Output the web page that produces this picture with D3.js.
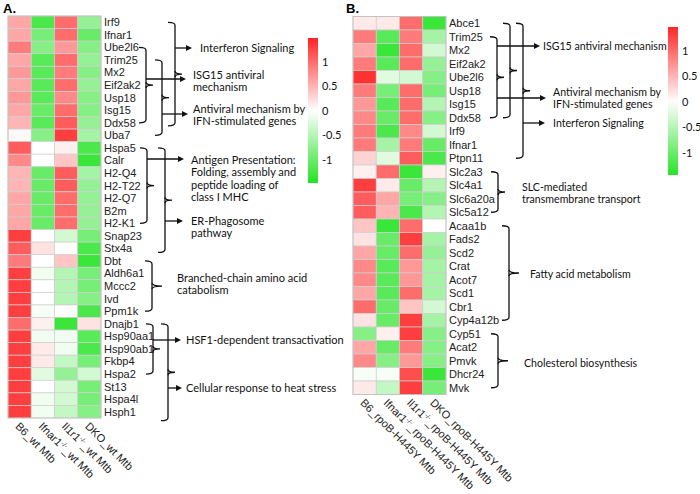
<!DOCTYPE html>
<html><head><meta charset="utf-8">
<script src="https://cdn.jsdelivr.net/npm/d3@7"></script>
<style>body{margin:0;background:#fff}svg{display:block}</style>
</head><body>
<script>
// ---------- DATA ----------
const genesA = ["Irf9","Ifnar1","Ube2l6","Trim25","Mx2","Eif2ak2","Usp18","Isg15","Ddx58","Uba7",
 "Hspa5","Calr","H2-Q4","H2-T22","H2-Q7","B2m","H2-K1","Snap23","Stx4a","Dbt","Aldh6a1","Mccc2","Ivd","Ppm1k",
 "Dnajb1","Hsp90aa1","Hsp90ab1","Fkbp4","Hspa2","St13","Hspa4l","Hsph1"];
// columns: B6, Ifnar1-/-, Il1r1-/-, DKO
const valuesA = [
 [0.6,-1.2,1.0,-0.7],[0.6,-0.9,1.0,-1.0],[0.9,-0.8,0.7,-0.8],[0.6,-1.1,1.0,-0.7],[0.7,-1.1,0.9,-0.8],
 [0.6,-1.1,1.0,-0.7],[0.7,-1.1,0.8,-0.8],[0.6,-1.0,1.0,-0.8],[0.5,-1.1,1.1,-0.7],[0.05,-0.8,1.3,-0.6],
 [1.1,0.0,0.1,-1.2],[0.8,0.0,0.4,-1.3],[0.5,-1.0,1.1,-0.6],[0.5,-1.0,1.1,-0.7],[0.6,-1.0,1.0,-0.7],
 [0.6,-1.0,1.0,-0.7],[0.6,-1.0,1.0,-0.7],[1.3,0.0,-0.3,-0.9],[1.1,0.2,0.0,-1.2],[0.9,0.0,0.4,-1.3],
 [1.3,-0.1,-0.5,-0.9],[1.3,0.0,-0.5,-0.9],[1.3,0.0,-0.5,-0.8],[1.3,-0.05,0.0,-1.2],[1.0,0.1,-1.3,0.2],
 [1.3,-0.1,-0.1,-1.1],[1.3,0.15,-0.1,-1.2],[1.3,0.15,-0.4,-0.9],[1.3,-0.2,-0.7,-0.3],[1.3,0.0,-0.3,-0.9],
 [1.3,-0.1,-0.3,-0.9],[1.3,-0.1,-0.4,-0.8]];
const genesB = ["Abce1","Trim25","Mx2","Eif2ak2","Ube2l6","Usp18","Isg15","Ddx58","Irf9","Ifnar1","Ptpn11",
 "Slc2a3","Slc4a1","Slc6a20a","Slc5a12","Acaa1b","Fads2","Scd2","Crat","Acot7","Scd1","Cbr1","Cyp4a12b",
 "Cyp51","Acat2","Pmvk","Dhcr24","Mvk"];
const valuesB = [
 [0.15,0.15,1.0,-1.3],[0.9,-1.1,0.9,-0.6],[0.6,-1.3,1.0,-0.3],[0.9,-1.1,1.0,-0.7],[1.4,-0.2,-0.3,-0.8],
 [0.9,-0.9,1.0,-0.9],[0.7,-1.1,1.0,-0.5],[0.8,-1.0,1.0,-0.8],[0.9,-1.2,0.8,-0.3],[0.9,-0.6,0.9,-1.0],
 [0.3,-0.2,1.1,-1.2],[0.1,1.0,-1.3,0.1],[1.3,0.15,-1.0,-0.5],[1.1,0.6,-0.9,-0.8],[1.1,0.5,-1.2,-0.5],
 [0.4,-1.3,1.0,0.0],[0.2,-1.0,1.3,-0.6],[0.6,-1.0,1.0,-0.7],[0.8,-1.1,0.7,-0.6],[0.8,-1.1,0.7,-0.6],
 [0.6,-1.1,1.0,-0.6],[1.0,-1.0,0.4,-0.3],[0.2,-1.0,1.3,-0.6],[-0.8,0.1,1.3,-0.8],[0.6,-1.0,0.9,-0.8],
 [0.8,-0.8,0.7,-0.8],[-0.05,-0.05,1.2,-1.3],[0.15,-0.4,1.3,-0.9]];
const colPrefix = ["B6","Ifnar1","Il1r1","DKO"];
const colSup = ["","-/-","-/-",""];
const colSuffixA = "_wt Mtb";
const colSuffixB = "_rpoB-H445Y Mtb";
const legendTicks = [1,0.5,0,-0.5,-1];
const legendTickLabels = ["1","0.5","0","-0.5","-1"];

// ---------- DRAW ----------
const W=700,H=494;
const svg=d3.select("body").append("svg").attr("width",W).attr("height",H);
const color=d3.scaleLinear().domain([-1.5,0,1.5]).range(["#1de21d","#ffffff","#ff2222"]).clamp(true);
const geneFont="'Liberation Sans', Arial, sans-serif";
const noteFont="Lato, 'Open Sans', sans-serif";

function heatmap(genes, values, x0, x1, y0, y1, suffix){
  const g=svg.append("g");
  const x=d3.scaleBand().domain(d3.range(4)).range([x0,x1]);
  const y=d3.scaleBand().domain(genes).range([y0,y1]);
  genes.forEach((gene,i)=>{
    values[i].forEach((v,j)=>{
      g.append("rect").attr("x",x(j)).attr("y",y(gene)).attr("width",x.bandwidth()).attr("height",y.bandwidth())
       .attr("fill",color(v)).attr("stroke","#cfcfcf").attr("stroke-width",0.7);
    });
    g.append("text").attr("x",x1+3).attr("y",y(gene)+y.bandwidth()/2).attr("dy","0.36em")
      .attr("font-family",geneFont).attr("font-size",11).attr("fill","#222").text(gene);
  });
  g.append("rect").attr("x",x0).attr("y",y0).attr("width",x1-x0).attr("height",y1-y0)
    .attr("fill","none").attr("stroke","#bdbdbd").attr("stroke-width",0.8);
  colPrefix.forEach((p,j)=>{
    const cx=x(j)+x.bandwidth()/2-5, cy=y1+9;
    const t=g.append("text").attr("transform",`translate(${cx},${cy}) rotate(45)`)
      .attr("font-family",geneFont).attr("font-size",11).attr("fill","#222");
    t.append("tspan").text(p);
    if(colSup[j]) t.append("tspan").attr("font-size",7).attr("dy",-4).text(colSup[j]);
    t.append("tspan").attr("dy",colSup[j]?4:0).text(suffix);
  });
  return y;
}
const yA=heatmap(genesA,valuesA,8,101,16,418,colSuffixA);
const yB=heatmap(genesB,valuesB,353,446,16.5,394.5,colSuffixB);
const cA=g=>yA(g)+yA.bandwidth()/2, cB=g=>yB(g)+yB.bandwidth()/2;

svg.append("text").attr("x",3).attr("y",13).attr("font-family",geneFont).attr("font-weight","bold").attr("font-size",13).text("A.");
svg.append("text").attr("x",346).attr("y",13).attr("font-family",geneFont).attr("font-weight","bold").attr("font-size",13).text("B.");

// brackets / arrows
const ann=svg.append("g").attr("fill","none").attr("stroke","#111").attr("stroke-width",1.3);
function bracket(x,ya,yb,tick){
  const w=7,r=3,ym=(ya+yb)/2;
  ann.append("path").attr("d",`M${x-w},${ya} Q${x},${ya} ${x},${ya+r} L${x},${yb-r} Q${x},${yb} ${x-w},${yb}`);
  ann.append("path").attr("d",`M${x},${ym-3} Q${x},${ym} ${x+(tick||7)},${ym} Q${x},${ym} ${x},${ym+3}`);
}
function arrow(x1,x2,y){
  ann.append("line").attr("x1",x1).attr("x2",x2-4).attr("y1",y).attr("y2",y);
  svg.append("path").attr("d",`M${x2},${y} L${x2-6},${y-3} L${x2-6},${y+3} Z`).attr("fill","#111");
}
function note(x,y,lines,size){
  const t=svg.append("text").attr("font-family",noteFont).attr("font-size",size||11).attr("fill","#111");
  lines.forEach((l,i)=>t.append("tspan").attr("x",x).attr("y",y+i*12.5).attr("dy","0.35em").text(l));
}
const sA=11, sB=10.6;
// Panel A
bracket(146,cA("Ube2l6"),cA("Ddx58"));
bracket(162,cA("Trim25"),cA("Uba7"));
bracket(175,cA("Irf9"),cA("Ddx58")+3);
arrow(175,192,48); note(200,48,["Interferon Signaling"],sA);
arrow(146,186,79); note(193,75,["ISG15 antiviral","mechanism"],sA);
arrow(162,188,114); note(193,109,["Antiviral mechanism by","IFN-stimulated genes"],sA);
bracket(147,cA("Hspa5"),cA("H2-K1"));
bracket(165,cA("Hspa5"),cA("Stx4a")+4);
arrow(147,184,159); note(191,160,["Antigen Presentation:","Folding, assembly and","peptide loading of","class I MHC"],sA);
arrow(165,183,221); note(191,221,["ER-Phagosome","pathway"],sA);
bracket(152,cA("Dbt"),cA("Ppm1k"),10); note(177,278,["Branched-chain amino acid","catabolism"],sA);
bracket(153,cA("Dnajb1"),cA("Hspa2"));
bracket(168,cA("Dnajb1"),cA("Hsph1")+9);
arrow(153,181,340); note(186,340,["HSF1-dependent transactivation"],sA);
arrow(168,182,388); note(186,388,["Cellular response to heat stress"],sA);
// Panel B
bracket(497,cB("Trim25"),cB("Ddx58"));
bracket(510,cB("Abce1"),cB("Ddx58"));
bracket(523,cB("Abce1"),cB("Ptpn11"));
arrow(497,540,46); note(543,46,["ISG15 antiviral mechanism"],sB);
arrow(497,546,98); note(553,92,["Antiviral mechanism by","IFN-stimulated genes"],sB);
arrow(523,545,123); note(553,123,["Interferon Signaling"],sB);
bracket(498,cB("Slc2a3"),cB("Slc5a12")); note(522,187,["SLC-mediated","transmembrane transport"],sB);
bracket(509,cB("Acaa1b"),cB("Cyp4a12b"),10); note(530,274,["Fatty acid metabolism"],sB);
bracket(498,cB("Cyp51"),cB("Mvk"),10); note(524,363,["Cholesterol biosynthesis"],sB);

// color bars
function colorbar(x,yTop,yBot,domTop,domBot,id){
  const y=d3.scaleLinear().domain([domBot,domTop]).range([yBot,yTop]);
  const grad=svg.append("defs").append("linearGradient").attr("id",id).attr("x1",0).attr("x2",0).attr("y1",1).attr("y2",0);
  d3.range(0,1.0001,0.1).forEach(f=>grad.append("stop").attr("offset",f).attr("stop-color",color(domBot+f*(domTop-domBot))));
  svg.append("rect").attr("x",x).attr("y",yTop).attr("width",10).attr("height",yBot-yTop).attr("fill",`url(#${id})`);
  legendTicks.forEach((t,i)=>svg.append("text").attr("x",x+14).attr("y",y(t)).attr("dy","0.35em")
    .attr("font-family",noteFont).attr("font-size",11).attr("fill","#111").text(legendTickLabels[i]));
}
colorbar(308,38,183,1.49,-1.47,"gA");
colorbar(668,27,175,1.47,-1.43,"gB");
</script>
</body></html>
